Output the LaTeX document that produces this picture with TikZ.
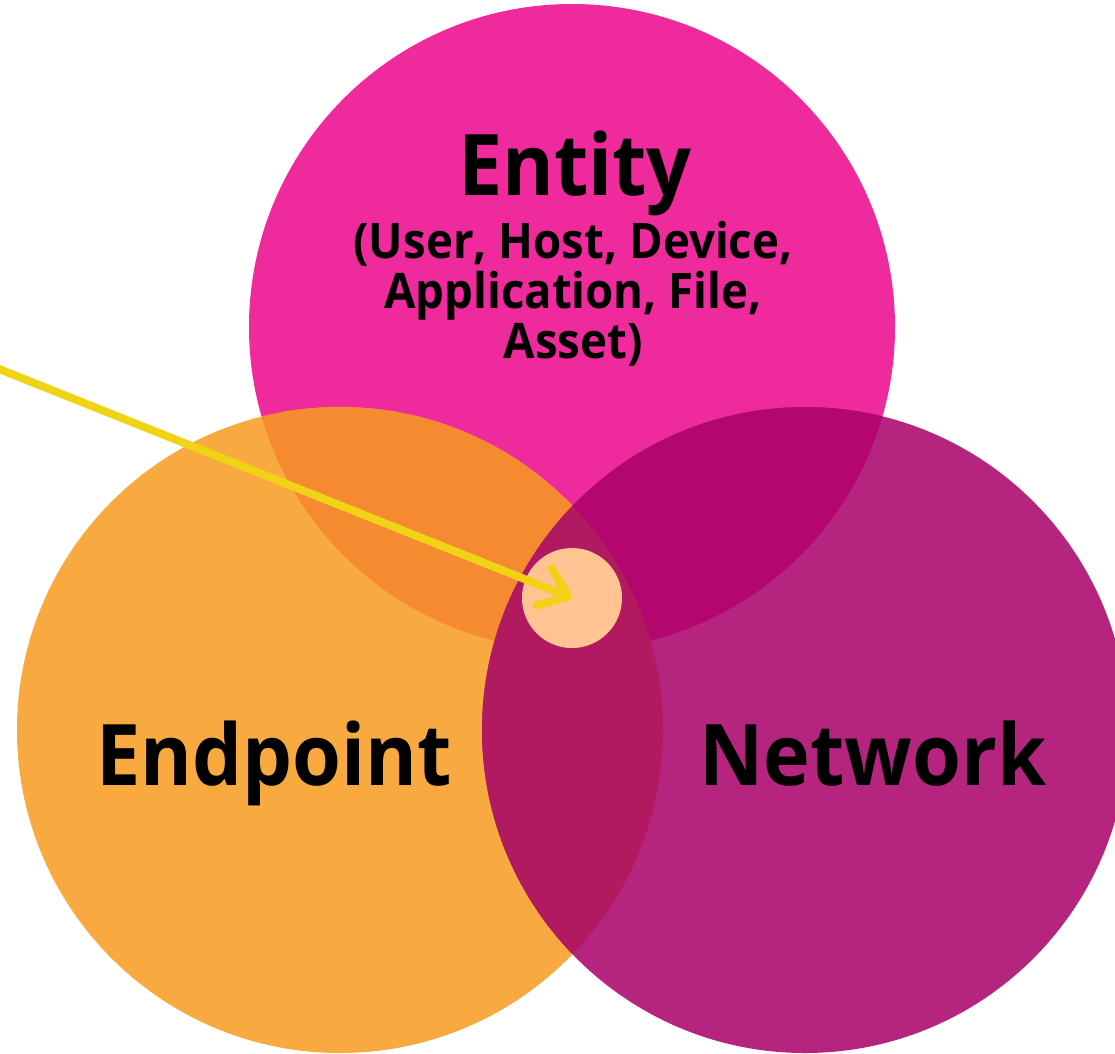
\documentclass[tikz,border=0pt]{standalone}
\usepackage{fontspec}
\setmainfont{Open Sans}[FakeStretch=0.93]
\usetikzlibrary{arrows.meta}
\definecolor{entityC}{HTML}{EE2A9C}
\definecolor{endpointC}{HTML}{F8AA40}
\definecolor{networkC}{HTML}{B5257F}
\definecolor{entEndC}{HTML}{F58A30}
\definecolor{entNetC}{HTML}{B3066E}
\definecolor{endNetC}{HTML}{B11A60}
\definecolor{hubC}{HTML}{FFC492}
\definecolor{arrowC}{HTML}{F0D216}
\tikzset{
  blob/.style={circle, minimum size=646pt, inner sep=0pt, fill=#1},
  title/.style={font=\bfseries\fontsize{85}{90}\selectfont, text=black, anchor=base},
  subtitle/.style={font=\bfseries\fontsize{49}{50}\selectfont, text=black, align=center, anchor=north},
  pointer/.style={draw=arrowC, line width=8pt, line cap=round,
    -{Straight Barb[length=26pt, width=40pt, round]}}
}
\begin{document}
\begin{tikzpicture}[x=1pt, y=-1pt]
\useasboundingbox (0,0) rectangle (1115,1053);
\begin{scope}
\clip (0,0) rectangle (1115,1053);
% the three sets
\node[blob=entityC]   (entity)   at (572,327) {};
\node[blob=endpointC] (endpoint) at (340,730) {};
\node[blob=networkC]  (network)  at (805,730) {};
% pairwise overlaps
\begin{scope}
  \clip (572,327) circle (323);
  \fill[entEndC] (340,730) circle (323);
  \fill[entNetC] (805,730) circle (323);
\end{scope}
\begin{scope}
  \clip (340,730) circle (323);
  \fill[endNetC] (805,730) circle (323);
\end{scope}
\end{scope}
% centre of the triple overlap
\node[circle, minimum size=100pt, inner sep=0pt, fill=hubC] (hub) at (572,598) {};
% labels
\node[title] (entityT) at (575,195) {Entity};
\node[subtitle] (entitySub) at (573,218) {(User, Host, Device,\\Application, File,\\Asset)};
\node[title] (endpointT) at (274,785) {Endpoint};
\node[title] (networkT) at (873,785) {Network};
% pointer into the intersection
\coordinate (src) at (-6,367);
\draw[pointer] (src) -- (hub.center);
\end{tikzpicture}
\end{document}
